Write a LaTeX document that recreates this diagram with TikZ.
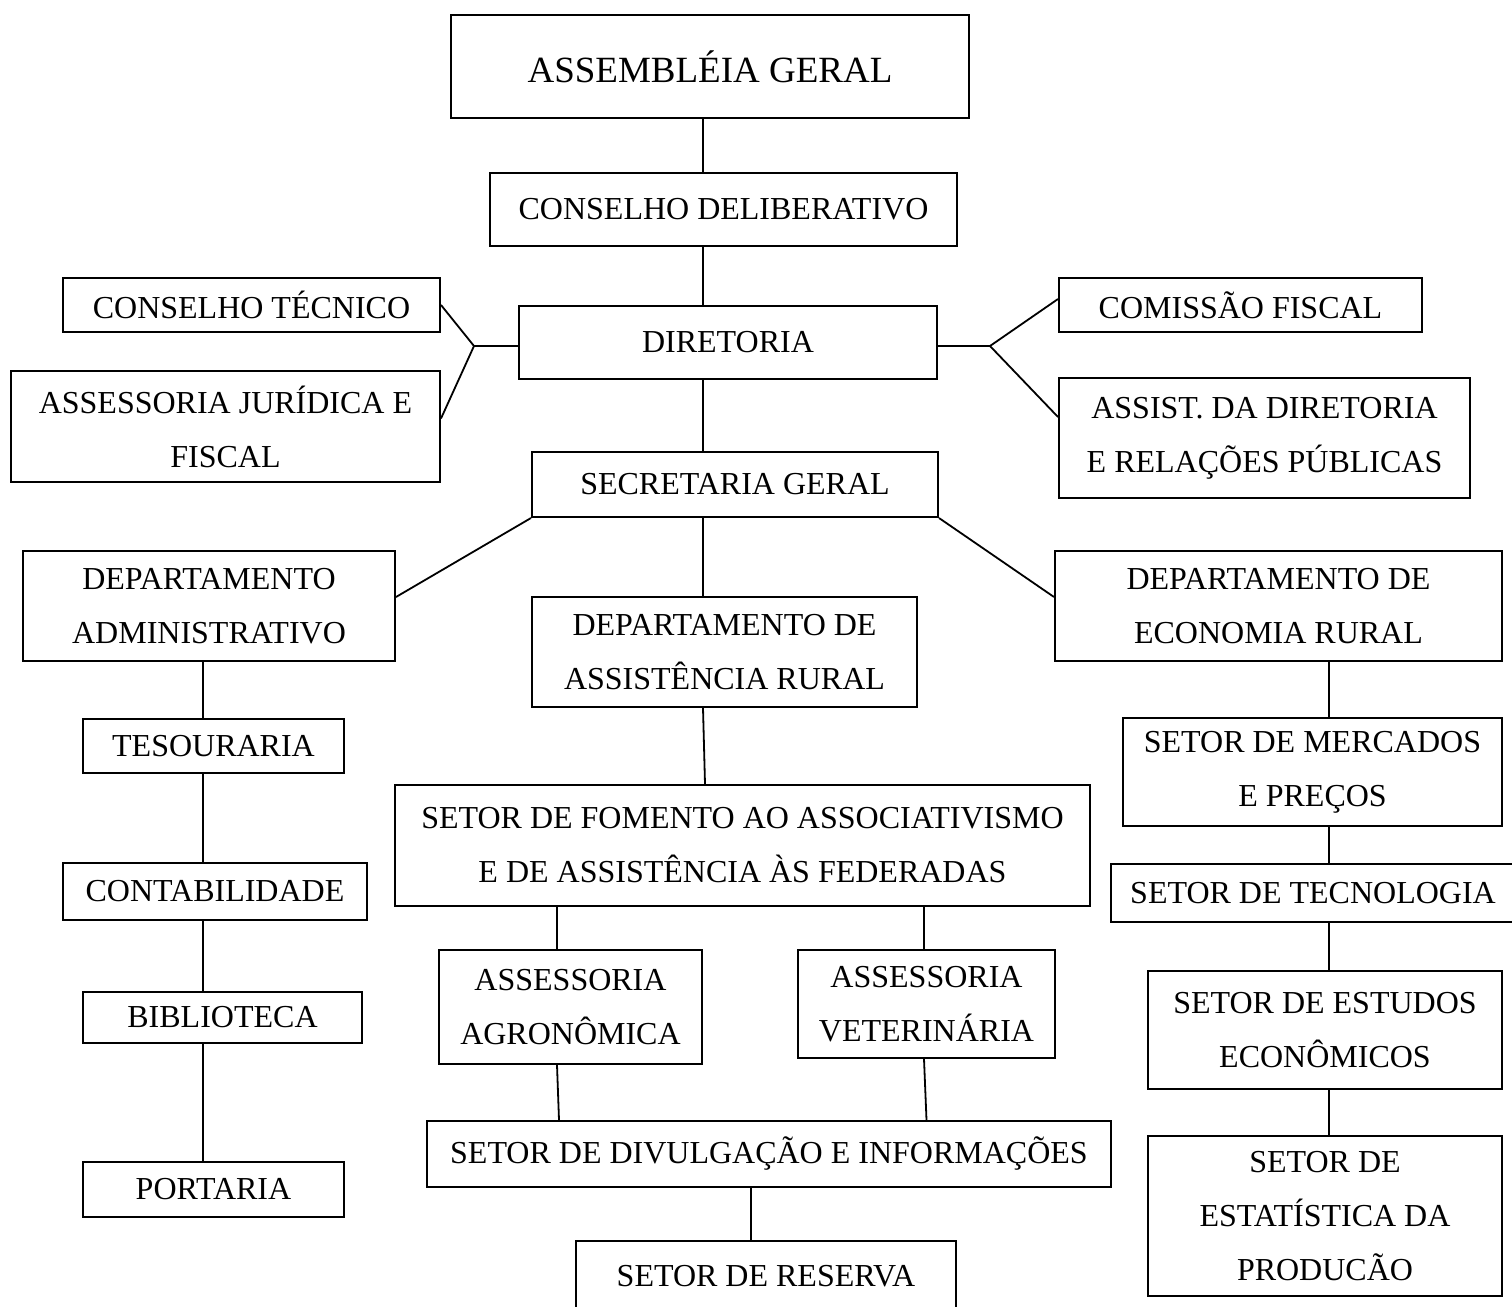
\documentclass[tikz,border=0pt]{standalone}
\usepackage{fontspec}
\setmainfont{Liberation Serif}
\usetikzlibrary{calc}
\tikzset{
  box/.style  = {draw, line width=2pt, inner sep=0pt, align=center,
                 font=\fontsize{32}{54}\selectfont},
  big/.style  = {font=\fontsize{37}{44}\selectfont},
  link/.style = {line width=1.8pt},
}

\begin{document}
\begin{tikzpicture}[x=1pt,y=-1pt]
  \useasboundingbox (0,0) rectangle (1512,1306);
  \coordinate (spine) at (703,0);
  \coordinate (admcol) at (203,0);
  \coordinate (ecocol) at (1329,0);
  \coordinate (agcol) at (557,0);
  \coordinate (vetcol) at (924,0);
  \coordinate (divcol) at (751,0);
  \coordinate (brL) at (474,346);
  \coordinate (brR) at (990,346);
  % central line
  \node[box,big,minimum width=518pt,minimum height=103pt] (assembleia) at (710,66.5) {ASSEMBLÉIA GERAL};
  \node[box,minimum width=467pt,minimum height=73pt] (conselho) at (723.5,209.5) {CONSELHO DELIBERATIVO};
  \node[box,minimum width=418pt,minimum height=73pt] (diretoria) at (728,342.5) {DIRETORIA};
  \node[box,minimum width=406pt,minimum height=65pt] (secretaria) at (735,484.5) {SECRETARIA GERAL};
  \node[box,minimum width=377pt,minimum height=54pt] (tecnico) at (251.5,305) {CONSELHO TÉCNICO};
  \node[box,minimum width=429pt,minimum height=111pt] (juridica) at (225.5,426.5) {ASSESSORIA JURÍDICA E\\FISCAL};
  \node[box,minimum width=363pt,minimum height=54pt] (comissao) at (1240.5,305) {COMISSÃO FISCAL};
  \node[box,minimum width=411pt,minimum height=120pt] (assist) at (1264.5,438) {ASSIST. DA DIRETORIA\\E RELAÇÕES PÚBLICAS};
  % departamentos
  \node[box,minimum width=372pt,minimum height=110pt] (deptadm) at (209,606) {DEPARTAMENTO\\ADMINISTRATIVO};
  \node[box,minimum width=385pt,minimum height=110pt] (deptrural) at (724.5,652) {DEPARTAMENTO DE\\ASSISTÊNCIA RURAL};
  \node[box,minimum width=447pt,minimum height=110pt] (depteco) at (1278.5,606) {DEPARTAMENTO DE\\ECONOMIA RURAL};
  % administrativo
  \node[box,minimum width=261pt,minimum height=54pt] (tesouraria) at (213.5,746) {TESOURARIA};
  \node[box,minimum width=304pt,minimum height=57pt] (contab) at (215,891.5) {CONTABILIDADE};
  \node[box,minimum width=279pt,minimum height=51pt] (biblio) at (222.5,1017.5) {BIBLIOTECA};
  \node[box,minimum width=261pt,minimum height=55pt] (portaria) at (213.5,1189.5) {PORTARIA};
  % assistencia rural
  \node[box,minimum width=695pt,minimum height=121pt] (fomento) at (742.5,845.5) {SETOR DE FOMENTO AO ASSOCIATIVISMO\\E DE ASSISTÊNCIA ÀS FEDERADAS};
  \node[box,minimum width=263pt,minimum height=114pt] (agro) at (570.5,1007) {ASSESSORIA\\AGRONÔMICA};
  \node[box,minimum width=257pt,minimum height=108pt] (vet) at (926.5,1004) {ASSESSORIA\\VETERINÁRIA};
  \node[box,minimum width=684pt,minimum height=66pt] (divulg) at (769,1154) {SETOR DE DIVULGAÇÃO E INFORMAÇÕES};
  \node[box,minimum width=380pt,minimum height=71pt] (reserva) at (766,1276.5) {SETOR DE RESERVA};
  % economia rural
  \node[box,minimum width=379pt,minimum height=108pt] (mercados) at (1312.5,772) {SETOR DE MERCADOS\\E PREÇOS};
  \node[box,minimum width=404pt,minimum height=58pt] (tecnologia) at (1313,893) {SETOR DE TECNOLOGIA};
  \node[box,minimum width=354pt,minimum height=118pt] (estudos) at (1325,1030) {SETOR DE ESTUDOS\\ECONÔMICOS};
  \node[box,minimum width=354pt,minimum height=160pt] (estatistica) at (1325,1216) {SETOR DE\\ESTATÍSTICA DA\\PRODUCÃO};
  % connectors
  \draw[link] (assembleia.south -| spine) -- (conselho.north -| spine);
  \draw[link] (conselho.south -| spine) -- (diretoria.north -| spine);
  \draw[link] (diretoria.south -| spine) -- (secretaria.north -| spine);
  \draw[link] (secretaria.south -| spine) -- (deptrural.north -| spine);
  \draw[link] (deptrural.south -| spine) -- ($(fomento.north -| spine)+(2,0)$);
  \draw[link] (diretoria.west |- brL) -- (brL) -- (tecnico.east);
  \draw[link] (brL) -- ([yshift=8pt]juridica.east);
  \draw[link] (diretoria.east |- brR) -- (brR) -- ([yshift=6pt]comissao.west);
  \draw[link] (brR) -- ([yshift=21pt]assist.west);
  \draw[link] (secretaria.south west) -- ([yshift=9pt]deptadm.east);
  \draw[link] (secretaria.south east) -- ([yshift=9pt]depteco.west);
  \foreach \a/\b in {deptadm/tesouraria,tesouraria/contab,contab/biblio,biblio/portaria}
    \draw[link] (\a.south -| admcol) -- (\b.north -| admcol);
  \foreach \a/\b in {depteco/mercados,mercados/tecnologia,tecnologia/estudos,estudos/estatistica}
    \draw[link] (\a.south -| ecocol) -- (\b.north -| ecocol);
  \draw[link] (fomento.south -| agcol) -- (agro.north -| agcol);
  \draw[link] (agro.south -| agcol) -- ($(divulg.north -| agcol)+(2,0)$);
  \draw[link] (fomento.south -| vetcol) -- (vet.north -| vetcol);
  \draw[link] (vet.south -| vetcol) -- ($(divulg.north -| vetcol)+(2.5,0)$);
  \draw[link] (divulg.south -| divcol) -- (reserva.north -| divcol);
\end{tikzpicture}
\end{document}
